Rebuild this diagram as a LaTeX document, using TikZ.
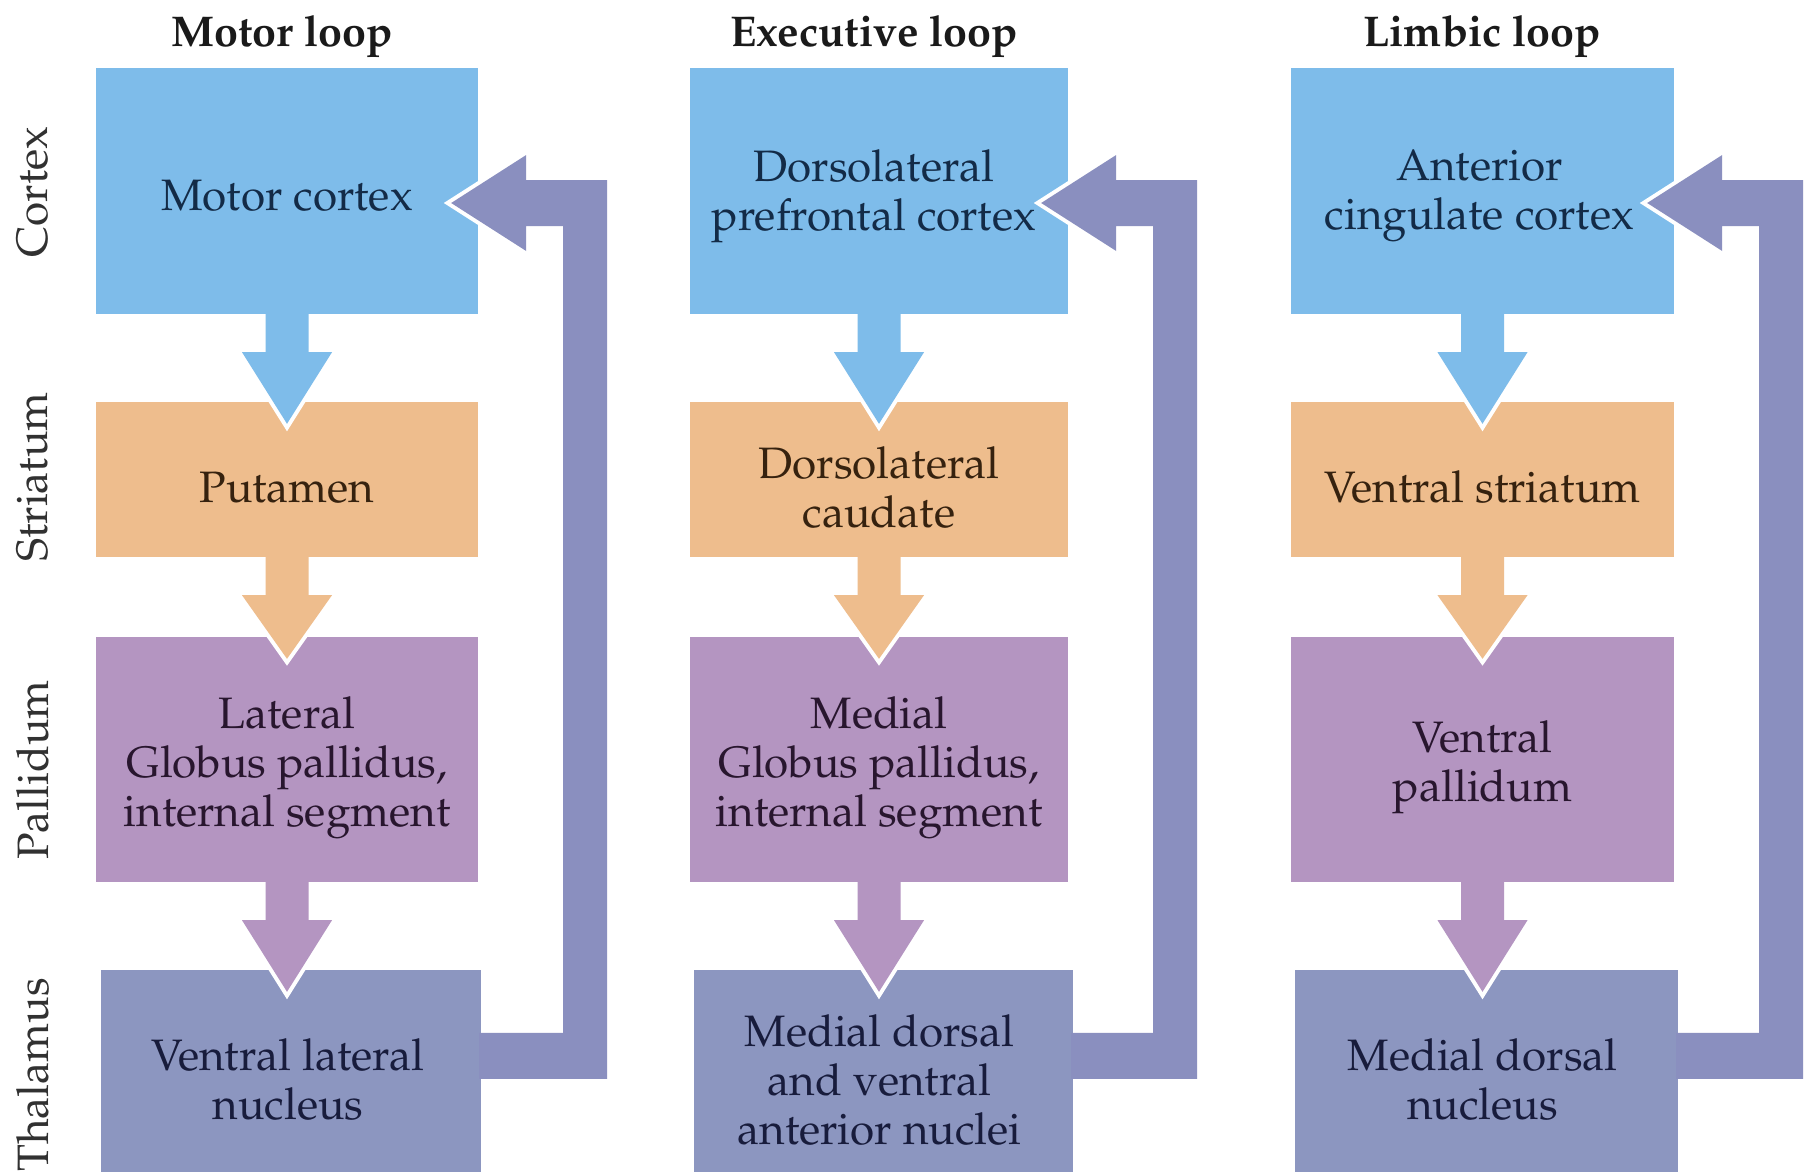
\documentclass[tikz,border=0pt]{standalone}
\usepackage[T1]{fontenc}
\renewcommand{\rmdefault}{ppl}
\usetikzlibrary{calc}

\definecolor{cortexfill}{HTML}{7EBCEA}
\definecolor{striatumfill}{HTML}{EEBD8D}
\definecolor{pallidumfill}{HTML}{B495C1}
\definecolor{thalamusfill}{HTML}{8C96C0}
\definecolor{loopfill}{HTML}{8A8FBF}
\definecolor{cortexink}{HTML}{132B47}
\definecolor{striatumink}{HTML}{36220F}
\definecolor{pallidumink}{HTML}{28162E}
\definecolor{thalamusink}{HTML}{181C3C}
\definecolor{headink}{HTML}{1A1A1A}

\tikzset{
  region/.style={rectangle, inner sep=0pt},
  cortexbox/.style={region, fill=cortexfill, minimum height=246pt},
  striatumbox/.style={region, fill=striatumfill, minimum height=155pt},
  pallidumbox/.style={region, fill=pallidumfill, minimum height=245pt},
  thalamusbox/.style={region, fill=thalamusfill, minimum height=220pt},
  boxtext/.style={inner sep=0pt, align=center,
    font=\fontsize{44}{49}\selectfont},
  looptitle/.style={anchor=base, inner sep=0pt, text=headink,
    font=\fontsize{43}{46}\selectfont\bfseries},
  rowlabel/.style={rotate=90, inner sep=0pt, text=headink!90,
    font=\fontsize{44}{46}\selectfont},
}

% block arrow pointing down from one box into the next
\newcommand{\feedforward}[3]{%
  \draw[white, line width=8pt, line join=miter, line cap=butt]
    let \p1=(#1.south), \p2=(#2.north) in
    (\x1-21.5pt,\y1) -- (\x1-21.5pt,\y1-38pt) -- (\x1-45pt,\y1-38pt)
    -- (\x1,\y2-22pt)
    -- (\x1+45pt,\y1-38pt) -- (\x1+21.5pt,\y1-38pt) -- (\x1+21.5pt,\y1);
  \fill[#3]
    let \p1=(#1.south), \p2=(#2.north) in
    (\x1-21.5pt,\y1+2pt) -- (\x1-21.5pt,\y1-38pt) -- (\x1-45pt,\y1-38pt)
    -- (\x1,\y2-22pt)
    -- (\x1+45pt,\y1-38pt) -- (\x1+21.5pt,\y1-38pt) -- (\x1+21.5pt,\y1+2pt) -- cycle;
}

% return path from the thalamus back up to the cortex
\newcommand{\feedback}[3]{%
  \draw[white, line width=8pt, line join=miter, line cap=butt]
    let \p1=(#1.north east), \p2=(#2.east) in
    (\x1,\y1-63pt) -- (\x2+85pt,\y1-63pt) -- (\x2+85pt,\y2-35pt)
    -- (\x2+48pt,\y2-35pt) -- (\x2+48pt,\y2-60pt) -- (\x2-27pt,\y2-12pt)
    -- (\x2+48pt,\y2+36pt) -- (\x2+48pt,\y2+11pt) -- (\x2+129pt,\y2+11pt)
    -- (\x2+129pt,\y1-109pt) -- (\x1,\y1-109pt);
  \fill[#3]
    let \p1=(#1.north east), \p2=(#2.east) in
    (\x1-2pt,\y1-63pt) -- (\x2+85pt,\y1-63pt) -- (\x2+85pt,\y2-35pt)
    -- (\x2+48pt,\y2-35pt) -- (\x2+48pt,\y2-60pt) -- (\x2-27pt,\y2-12pt)
    -- (\x2+48pt,\y2+36pt) -- (\x2+48pt,\y2+11pt) -- (\x2+129pt,\y2+11pt)
    -- (\x2+129pt,\y1-109pt) -- (\x1-2pt,\y1-109pt) -- cycle;
}

\begin{document}
\begin{tikzpicture}[x=1pt, y=-1pt]
  \useasboundingbox (0,0) rectangle (1808,1172);
  \fill[white] (0,0) rectangle (1808,1172);
  \clip (0,0) rectangle (1808,1172);

  % column headings
  \node[looptitle] (tmotor) at (282,47) {Motor loop};
  \node[looptitle] (texec)  at (874,47) {Executive loop};
  \node[looptitle] (tlimb)  at (1482,47) {Limbic loop};

  % row labels
  \node[rowlabel] (rcortex)   at (33,192)  {Cortex};
  \node[rowlabel] (rstriatum) at (33,477)  {Striatum};
  \node[rowlabel] (rpallidum) at (33,770)  {Pallidum};
  \node[rowlabel] (rthalamus) at (33,1075) {Thalamus};

  % motor loop
  \node[cortexbox,   minimum width=382pt] (mc) at (287,191)   {};
  \node[striatumbox, minimum width=382pt] (ms) at (287,479.5) {};
  \node[pallidumbox, minimum width=382pt] (mp) at (287,759.5) {};
  \node[thalamusbox, minimum width=380pt] (mt) at (291,1080)  {};

  % executive loop
  \node[cortexbox,   minimum width=378pt] (ec) at (879,191)    {};
  \node[striatumbox, minimum width=378pt] (es) at (879,479.5)  {};
  \node[pallidumbox, minimum width=378pt] (ep) at (879,759.5)  {};
  \node[thalamusbox, minimum width=379pt] (et) at (883.5,1080) {};

  % limbic loop
  \node[cortexbox,   minimum width=383pt] (lc) at (1482.5,191)   {};
  \node[striatumbox, minimum width=383pt] (ls) at (1482.5,479.5) {};
  \node[pallidumbox, minimum width=383pt] (lp) at (1482.5,759.5) {};
  \node[thalamusbox, minimum width=383pt] (lt) at (1486.5,1080)  {};

  % box captions
  \node[boxtext, text=cortexink]   (mc-t) at ($(mc.center)+(0,5)$) {Motor cortex};
  \node[boxtext, text=striatumink] (ms-t) at ($(ms.center)+(0,8)$) {Putamen};
  \node[boxtext, text=pallidumink] (mp-t) at ($(mp.center)+(0,8)$) {Lateral\\Globus pallidus,\\internal segment};
  \node[boxtext, text=thalamusink] (mt-t) at ($(mt.center)+(-3,0)$) {Ventral lateral\\nucleus};

  \node[boxtext, text=cortexink]   (ec-t) at ($(ec.center)+(-5,5)$) {Dorsolateral\\prefrontal cortex};
  \node[boxtext, text=striatumink] (es-t) at ($(es.center)+(0,8)$) {Dorsolateral\\caudate};
  \node[boxtext, text=pallidumink] (ep-t) at ($(ep.center)+(0,8)$) {Medial\\Globus pallidus,\\internal segment};
  \node[boxtext, text=thalamusink] (et-t) at ($(et.center)+(-4,0)$) {Medial dorsal\\and ventral\\anterior nuclei};

  \node[boxtext, text=cortexink]   (lc-t) at ($(lc.center)+(-3,5)$) {Anterior\\cingulate cortex};
  \node[boxtext, text=striatumink] (ls-t) at ($(ls.center)+(0,8)$) {Ventral striatum};
  \node[boxtext, text=pallidumink] (lp-t) at ($(lp.center)+(0,8)$) {Ventral\\pallidum};
  \node[boxtext, text=thalamusink] (lt-t) at ($(lt.center)+(-4,0)$) {Medial dorsal\\nucleus};

  % forward projections
  \feedforward{mc}{ms}{cortexfill}
  \feedforward{ms}{mp}{striatumfill}
  \feedforward{mp}{mt}{pallidumfill}
  \feedforward{ec}{es}{cortexfill}
  \feedforward{es}{ep}{striatumfill}
  \feedforward{ep}{et}{pallidumfill}
  \feedforward{lc}{ls}{cortexfill}
  \feedforward{ls}{lp}{striatumfill}
  \feedforward{lp}{lt}{pallidumfill}

  % thalamocortical returns
  \feedback{mt}{mc}{loopfill}
  \feedback{et}{ec}{loopfill}
  \feedback{lt}{lc}{loopfill}
\end{tikzpicture}
\end{document}
